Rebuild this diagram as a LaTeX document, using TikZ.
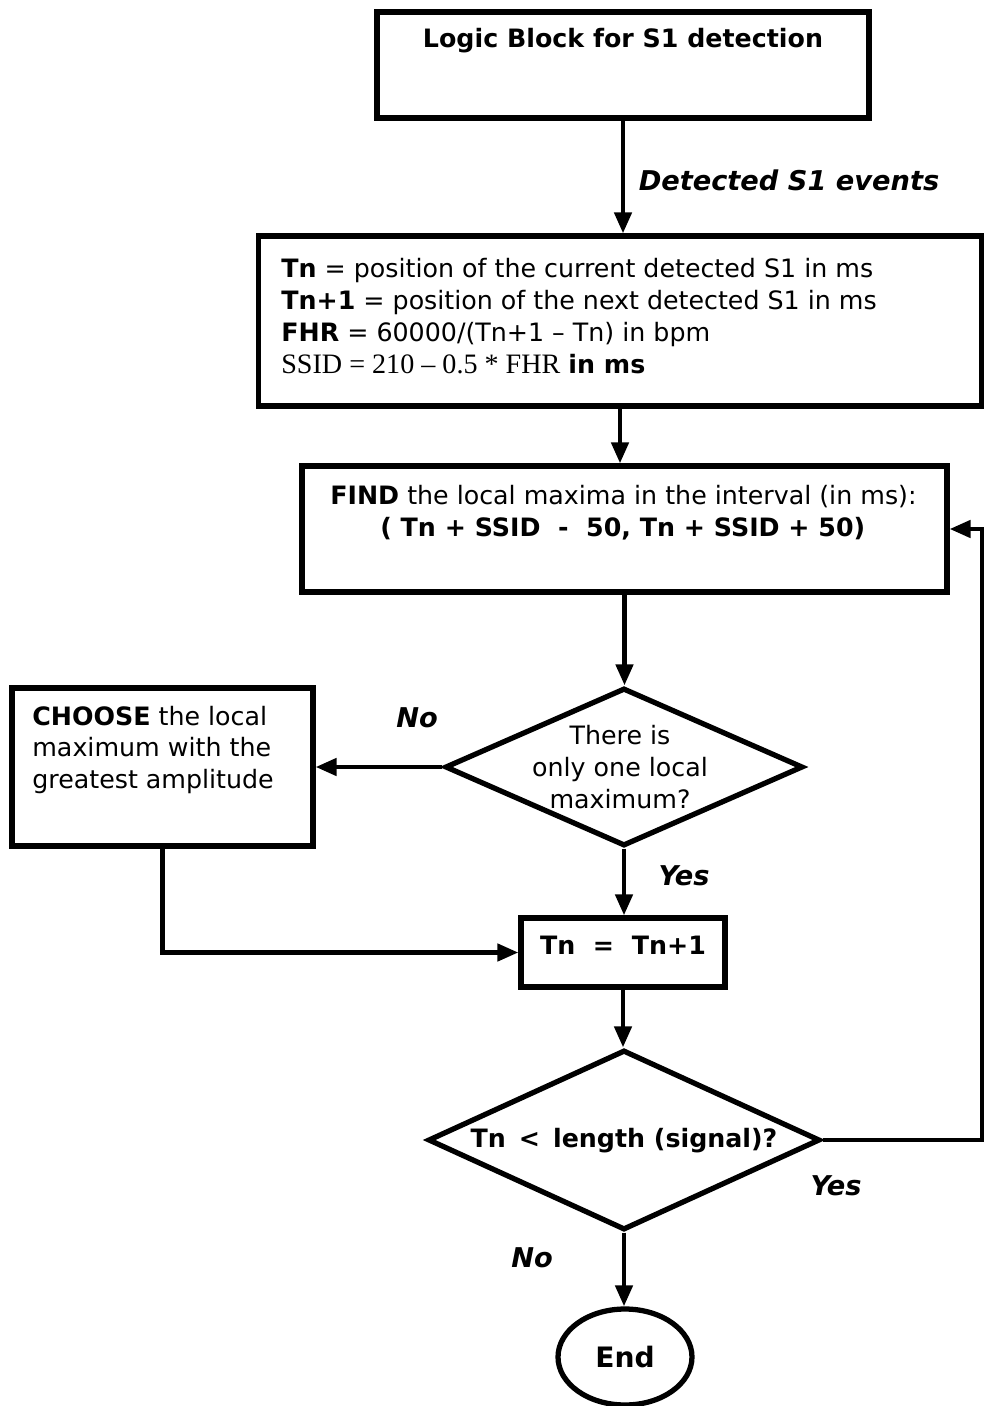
\documentclass[tikz,border=0pt]{standalone}
\usepackage{fontspec}
\setmainfont{DejaVu Sans}
\newfontfamily\timesfont[Ligatures=TeX]{Liberation Serif}
\usetikzlibrary{arrows.meta}
\usetikzlibrary{shapes.geometric}

\begin{document}
\begin{tikzpicture} [x=.02cm,y=-.02cm,
  blk/.style={draw,line width=3pt,inner sep=0pt},
  txt/.style={inner sep=0pt,font=\fontsize{14.4}{18.2}\selectfont},
  lbl/.style={inner sep=0pt,font=\fontsize{15.5}{18}\selectfont\bfseries\itshape},
  flow/.style={line width=2.6pt,-{Triangle[length=.42cm,width=.34cm]}}]
\useasboundingbox (0,0) rectangle (985,1406);

\node[blk,minimum width=9.84cm,minimum height=2.12cm] (logic) at (623,65) {};
\node[blk,minimum width=14.46cm,minimum height=3.4cm] (vars) at (620,321) {};
\node[blk,minimum width=12.9cm,minimum height=2.52cm] (find) at (624.5,529) {};
\node[blk,diamond,minimum width=7.16cm,minimum height=3.16cm] (one) at (624,767) {};
\node[blk,minimum width=6.02cm,minimum height=3.16cm] (choose) at (162.5,767) {};
\node[blk,minimum width=4.08cm,minimum height=1.38cm] (next) at (623,952.5) {};
\node[blk,diamond,minimum width=7.84cm,minimum height=3.6cm] (cmp) at (624,1140) {};
\node[blk,ellipse,minimum width=2.68cm,minimum height=1.92cm] (stop) at (625,1357) {};

\node[txt,font=\fontsize{14.4}{18.2}\selectfont\bfseries] (logictxt) at (623,41) {Logic Block for S1 detection};
\node[txt,anchor=west,align=left] (varstxt) at (281,316) {\textbf{Tn} = position of the current detected S1 in ms\\
\textbf{Tn+1} = position of the next detected S1 in ms\\
\textbf{FHR} = 60000/(Tn+1 -- Tn) in bpm\\
{\timesfont\fontsize{16}{18.2}\selectfont SSID = 210 -- 0.5 * FHR} \textbf{in ms}};
\node[txt,anchor=west,align=left] (findtxt) at (330,513) {\textbf{FIND} the local maxima in the interval (in ms):\\
\hspace*{1cm}\textbf{( Tn + SSID \ - \ 50, Tn + SSID + 50)}};
\node[txt,align=center] (onetxt) at (620,767) {There is\\ only one local\\ maximum?};
\node[txt,anchor=west,align=left] (choosetxt) at (32,750) {\textbf{CHOOSE} the local\\ maximum with the\\ greatest amplitude};
\node[txt,font=\fontsize{14.4}{18.2}\selectfont\bfseries] (nexttxt) at (623,945) {Tn \ = \ Tn+1};
\node[txt,font=\fontsize{14.4}{18.2}\selectfont\bfseries] (cmptxt) at (624,1141) {Tn \,<\, length (signal)?};
\node[txt,font=\fontsize{16}{18}\selectfont\bfseries] (stoptxt) at (625,1357) {End};

\node[lbl] (evts) at (789,180) {Detected S1 events};
\node[lbl] (no1) at (417,718) {No};
\node[lbl] (yes1) at (684,876) {Yes};
\node[lbl] (yes2) at (836,1186) {Yes};
\node[lbl] (no2) at (532,1258) {No};

\foreach \a/\b in {logic/vars, vars/find, find/one, one/next, next/cmp, cmp/stop} \draw[flow] (\a.south) -- (\a.south |- \b.north);

\draw[flow] (one.west) -- (choose.east |- one.west);
\draw[flow] (choose.south) |- (next.west);
\coordinate (rim) at (982,1140);
\draw[flow] (cmp.east) -- (rim) |- (find.east);

\end{tikzpicture}
\end{document}
